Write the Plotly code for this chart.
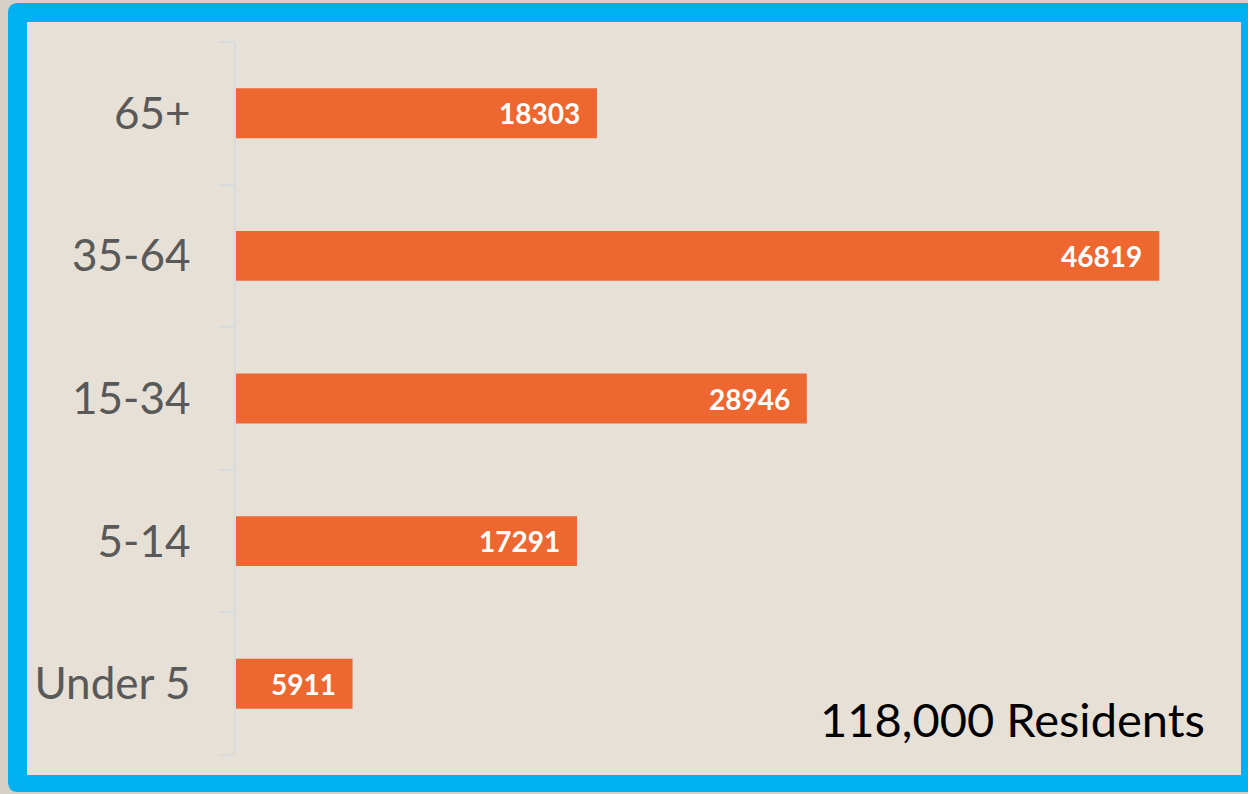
import plotly.graph_objects as go

categories = ["Under 5", "5-14", "15-34", "35-64", "65+"]
values = [5911, 17291, 28946, 46819, 18303]
total_label = "118,000 Residents"

W, H = 1248, 794
ML, MR, MT, MB = 236, 26, 42, 39
PW, PH = W - ML - MR, H - MT - MB

def px(x):
    return (x - ML) / PW

def py(y):
    return (H - MB - y) / PH

BLUE = "#00B0F0"
BEIGE = "#E7E0D6"
OUTER = "#D6D1C8"
ORANGE = "#EE6730"

def rounded_rect(x0, y0, x1, y1, r):
    pts = []
    pts.append(f"M {px(x0 + r)},{py(y0)}")
    pts.append(f"L {px(x1 - r)},{py(y0)}")
    pts.append(f"Q {px(x1)},{py(y0)} {px(x1)},{py(y0 + r)}")
    pts.append(f"L {px(x1)},{py(y1 - r)}")
    pts.append(f"Q {px(x1)},{py(y1)} {px(x1 - r)},{py(y1)}")
    pts.append(f"L {px(x0 + r)},{py(y1)}")
    pts.append(f"Q {px(x0)},{py(y1)} {px(x0)},{py(y1 - r)}")
    pts.append(f"L {px(x0)},{py(y0 + r)}")
    pts.append(f"Q {px(x0)},{py(y0)} {px(x0 + r)},{py(y0)}")
    pts.append("Z")
    return " ".join(pts)

fig = go.Figure()
fig.add_trace(go.Bar(
    y=categories, x=values, orientation="h",
    marker=dict(color=ORANGE, line=dict(width=0)),
    hoverinfo="skip",
))

annotations = []
for c, v in zip(categories, values):
    annotations.append(dict(
        x=v, y=c, xref="x", yref="y", text=f"<b>{v}</b>", showarrow=False,
        xanchor="right", xshift=-15, yshift=0,
        font=dict(family="Lato", size=28, color="white"),
    ))
annotations.append(dict(
    x=px(1207), y=py(719), xref="paper", yref="paper", text=total_label,
    showarrow=False, xanchor="right", yanchor="middle",
    font=dict(family="Lato", size=47, color="black"),
))

shapes = [
    dict(type="path", xref="paper", yref="paper", layer="below",
         path=rounded_rect(8, 3, 1262, 792, 10), fillcolor=BLUE, line=dict(width=0)),
    dict(type="rect", xref="paper", yref="paper", layer="below",
         x0=px(27), x1=px(1241), y0=py(775), y1=py(22), fillcolor=BEIGE, line=dict(width=0)),
]

fig.update_layout(
    width=W, height=H,
    margin=dict(l=ML, r=MR, t=MT, b=MB, pad=0),
    paper_bgcolor=OUTER, plot_bgcolor=BEIGE,
    bargap=0.65, showlegend=False,
    shapes=shapes, annotations=annotations,
    xaxis=dict(range=[0, 50000], visible=False, showgrid=False, zeroline=False),
    yaxis=dict(
        categoryorder="array", categoryarray=categories,
        showline=True, linecolor="#D8DADB", linewidth=1.5,
        ticks="outside", tickson="boundaries", ticklen=15, tickcolor="#D8DADB", tickwidth=1.5,
        ticklabelstandoff=35,
        tickfont=dict(family="Lato", size=44, color="#595959"),
        showgrid=False, zeroline=False,
    ),
)

fig.write_html("out.html", config={"displayModeBar": False},
               post_script="document.body.style.margin='0';document.body.style.overflow='hidden';")
